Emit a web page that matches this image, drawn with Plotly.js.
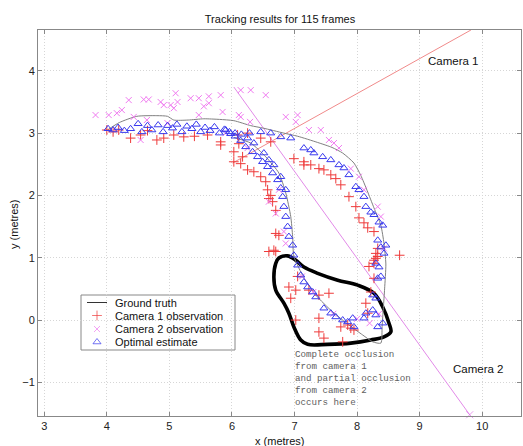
<!DOCTYPE html>
<html>
<head>
<meta charset="utf-8">
<script src="https://cdn.plot.ly/plotly-3.0.1.min.js"></script>
<style>html,body{margin:0;padding:0;background:#fff}#chart{width:523px;height:446px}</style>
</head>
<body>
<div id="chart"></div>
<script>
// ---- Data ----
const gtX = [4.01,4.20,4.48,4.80,4.97,5.07,5.30,5.55,5.80,6.03,6.30,6.50,6.83,7.05,7.37,7.60,7.77,7.95,8.06,8.16,8.27,8.38,8.43,8.46,8.44,8.42,8.40,8.38,8.25,8.09,7.87,7.61,7.34,7.15,6.99,6.97,6.94,6.86,6.75,6.54,6.30,6.03];
const gtY = [3.05,3.17,3.27,3.28,3.27,3.21,3.21,3.23,3.22,3.20,3.12,3.08,3.00,2.95,2.85,2.77,2.68,2.52,2.32,2.08,1.80,1.52,1.23,0.90,0.50,0.20,-0.10,-0.37,-0.35,-0.24,-0.08,0.13,0.40,0.68,1.02,1.34,1.66,2.04,2.36,2.62,2.84,2.93];

const cam1X = [4.00,4.19,4.38,4.54,4.80,4.91,5.07,5.23,5.61,5.82,5.82,6.09,6.25,6.46,6.62,4.10,5.40,4.65,
  6.11,6.03,6.14,6.25,6.35,6.46,6.54,6.57,6.59,6.65,6.70,6.70,6.75,6.67,6.70,6.03,6.17,6.62,
  6.99,7.15,7.15,7.26,7.39,7.47,7.58,7.66,7.74,7.87,7.98,8.03,8.11,8.17,8.27,8.30,8.33,8.27,8.68,8.19,
  6.59,7.05,6.91,7.02,7.23,7.39,7.55,6.94,7.39,7.02,7.74,7.85,7.90,7.95,7.47,7.39,7.77,8.14,8.17,8.22,8.27,8.27,8.33,8.30];
const cam1Y = [3.05,3.05,2.92,2.97,2.89,2.92,2.97,2.94,2.97,2.86,2.81,2.97,3.00,2.92,2.86,3.02,2.95,3.04,
  2.83,2.54,2.51,2.41,2.38,2.30,2.22,2.09,1.95,1.90,1.76,1.39,1.36,1.12,1.10,2.70,2.62,2.00,
  2.59,2.54,2.49,2.49,2.43,2.41,2.33,2.27,2.17,1.98,1.82,1.64,1.56,1.48,1.42,1.07,1.02,0.96,1.04,0.86,
  1.10,0.70,0.53,0.48,0.48,0.40,0.43,0.35,0.03,0.00,-0.11,-0.08,-0.13,-0.16,-0.29,-0.19,-0.35,0.27,0.11,0.45,0.67,0.91,1.15,0.99];

const cam2X = [3.82,4.03,4.16,4.24,4.35,4.43,4.59,4.67,4.64,4.86,4.91,4.97,5.02,5.07,5.10,5.13,5.34,5.47,5.47,5.55,5.63,5.63,5.85,5.82,
  6.14,6.30,6.54,6.14,6.29,6.86,7.05,7.02,7.23,7.42,7.55,7.63,7.71,7.90,8.03,8.11,8.33,8.38,8.43,
  6.59,6.70,6.83,6.86,6.75,6.25,6.11,4.54,5.90,7.12,7.30,7.62,8.00,8.35,8.20];
const cam2Y = [3.29,3.29,3.32,3.37,3.53,3.26,3.54,3.54,3.21,3.50,3.45,3.16,3.45,3.40,3.64,3.50,3.56,3.56,3.29,3.43,3.59,3.48,3.34,3.61,
  3.69,3.69,3.61,3.26,3.18,3.26,3.29,3.18,3.05,3.05,2.89,2.84,2.76,2.43,2.30,2.09,1.82,1.66,1.15,
  1.90,1.71,1.42,1.23,2.09,2.76,3.29,2.89,3.00,0.70,0.45,0.10,0.02,0.10,-0.05];

const estX = [4.02,4.10,4.18,4.28,4.38,4.50,4.56,4.65,4.72,4.82,4.90,4.97,5.05,5.12,5.20,5.28,5.36,5.43,5.50,5.57,5.65,5.72,5.80,5.88,5.96,
  6.05,6.15,6.28,6.46,6.62,6.78,6.94,
  7.15,7.26,7.31,7.45,7.58,7.71,7.79,7.87,7.98,8.03,8.11,8.14,8.22,8.27,8.35,8.41,8.33,8.38,8.43,8.30,8.35,8.38,8.33,8.30,8.25,8.46,
  8.41,8.33,8.30,8.25,8.14,8.11,7.95,7.93,7.85,7.77,7.66,7.58,7.47,7.34,7.29,7.21,7.15,7.10,7.05,6.99,
  6.97,6.91,6.89,6.86,6.83,6.81,6.78,6.73,6.65,6.57,6.49,6.41,6.33,6.22,6.14,6.05,5.98,5.90,
  6.25,6.35,6.51,6.59,6.67,6.78,6.86];
const estY = [3.07,3.05,3.09,3.04,3.07,3.15,3.02,3.12,3.05,3.13,3.02,3.12,3.08,3.14,3.02,3.11,3.07,3.14,3.02,3.09,3.04,3.10,3.00,3.06,3.02,
  3.00,2.98,3.00,3.02,3.00,2.94,2.92,
  2.76,2.73,2.68,2.62,2.57,2.49,2.44,2.33,2.14,2.09,1.98,1.82,1.73,1.69,1.57,1.52,1.28,1.17,1.07,0.91,0.85,0.70,0.67,0.35,0.40,1.20,
  -0.05,-0.11,0.08,0.16,0.11,0.03,-0.11,0.03,-0.03,0.00,0.05,0.11,0.19,0.37,0.45,0.53,0.61,0.72,0.88,1.04,
  1.20,1.34,1.50,1.66,1.82,1.98,2.12,2.25,2.36,2.46,2.54,2.62,2.70,2.78,2.88,2.95,2.99,3.05,
  2.92,2.84,2.68,2.57,2.49,2.30,2.09];

const camLine1X = [6.01,9.82];
const camLine1Y = [2.52,4.655];
const camLine2X = [6.03,9.80];
const camLine2Y = [3.74,-1.52];

const occX = [6.75,6.89,7.02,7.15,7.37,7.69,8.01,8.27,8.41,8.51,8.54,8.43,8.22,7.90,7.53,7.21,7.10,6.99,6.91,6.83,6.70,6.67,6.70,6.75];
const occY = [0.995,1.03,0.96,0.85,0.75,0.64,0.56,0.43,0.21,-0.05,-0.19,-0.27,-0.32,-0.37,-0.39,-0.39,-0.32,-0.11,0.11,0.27,0.48,0.69,0.91,0.995];

const legendLabels = ["Ground truth","Camera 1 observation","Camera 2 observation","Optimal estimate"];
const titleText = "Tracking results for 115 frames";
const xTitle = "x (metres)";
const yTitle = "y (metres)";
const occlusionNote = "Complete occlusion<br>from camera 1<br>and partial occlusion<br>from camera 2<br>occurs here";

// ---- Layout helpers (pixel -> paper) ----
const L = 38, R = 521, T = 30, B = 416;
const W = 523, H = 446;
const px2x = p => (p - L) / (R - L);
const py2y = p => (B - p) / (B - T);

const FONT = "Liberation Sans, Arial, Helvetica, sans-serif";
const red = "#ee3a3a", mag = "#f07af0", blue = "#3a3aee", gray = "#808080";

const traces = [
  {x: camLine1X, y: camLine1Y, mode: "lines", line: {color: "#f08a8a", width: 1}, hoverinfo: "skip"},
  {x: camLine2X, y: camLine2Y, mode: "lines+markers", line: {color: "#e28ae8", width: 1}, cliponaxis: false,
   marker: {symbol: "x-thin-open", size: [0, 7], color: "#e070e8", line: {color: "#e070e8", width: 1}}, hoverinfo: "skip"},
  {x: occX, y: occY, mode: "lines", line: {color: "#000", width: 3.6, shape: "spline", smoothing: 1}, hoverinfo: "skip"},
  {x: gtX, y: gtY, mode: "lines", line: {color: gray, width: 1, shape: "spline", smoothing: 0.6}, name: legendLabels[0]},
  {x: cam1X, y: cam1Y, mode: "markers", marker: {symbol: "cross-thin-open", size: 7, color: red, line: {color: red, width: 1}}, name: legendLabels[1]},
  {x: cam2X, y: cam2Y, mode: "markers", marker: {symbol: "x-thin-open", size: 6, color: mag, line: {color: mag, width: 1}}, name: legendLabels[2]},
  {x: estX, y: estY, mode: "markers", marker: {symbol: "triangle-up-open", size: 7, color: blue, line: {color: blue, width: 1}}, name: legendLabels[3]},
  // legend sample markers (overlay axes in paper units)
  {x: [px2x(97), px2x(97), px2x(97)], y: [py2y(315.5), py2y(329), py2y(342)], xaxis: "x2", yaxis: "y2",
   mode: "markers", hoverinfo: "skip", cliponaxis: false,
   marker: {symbol: ["cross-thin-open","x-thin-open","triangle-up-open"], size: [7,6,7],
            color: [red, mag, blue], line: {color: [red, mag, blue], width: 1}}}
];

const rowY = [302.5, 315.5, 329, 342];
const annotations = legendLabels.map((t, i) => ({
  xref: "paper", yref: "paper", x: px2x(113), y: py2y(rowY[i]), xanchor: "left", yanchor: "middle",
  text: t, showarrow: false, font: {family: FONT, size: 11, color: "#111"}
}));
annotations.push(
  {xref: "x", yref: "y", x: 6.98, y: -0.43, xanchor: "left", yanchor: "top", align: "left", showarrow: false,
   text: occlusionNote, font: {family: "Courier New, Liberation Mono, monospace", size: 9.2, color: "#606060"}},
  {xref: "paper", yref: "paper", x: px2x(453), y: py2y(61), xanchor: "center", yanchor: "middle", showarrow: false,
   text: "Camera 1", font: {family: FONT, size: 11.5, color: "#111"}},
  {xref: "paper", yref: "paper", x: px2x(478), y: py2y(369), xanchor: "center", yanchor: "middle", showarrow: false,
   text: "Camera 2", font: {family: FONT, size: 11.5, color: "#111"}},
  {xref: "paper", yref: "paper", x: px2x(280), y: py2y(441), xanchor: "center", yanchor: "middle", showarrow: false,
   text: xTitle, font: {family: FONT, size: 11, color: "#111"}},
  {xref: "paper", yref: "paper", x: px2x(14), y: py2y(224), xanchor: "center", yanchor: "middle", showarrow: false,
   textangle: -90, text: yTitle, font: {family: FONT, size: 11, color: "#111"}}
);

const shapes = [
  {type: "rect", xref: "paper", yref: "paper", x0: px2x(81), x1: px2x(235), y0: py2y(350), y1: py2y(295),
   line: {color: "#888", width: 1}, fillcolor: "#fff", layer: "between"},
  {type: "line", xref: "paper", yref: "paper", x0: px2x(87), x1: px2x(107), y0: py2y(302.5), y1: py2y(302.5),
   line: {color: "#333", width: 1}, layer: "between"}
];

const axisCommon = {
  showline: true, linecolor: "#888", linewidth: 1, mirror: "allticks",
  ticks: "inside", ticklen: 4, tickcolor: "#888", tickwidth: 1,
  showgrid: true, gridcolor: "#d6d6d6", griddash: "1px,2px", gridwidth: 1,
  zeroline: false, tickfont: {family: FONT, size: 11, color: "#222"}, fixedrange: true
};

const layout = {
  width: W, height: H,
  margin: {l: L, r: W - R, t: T, b: H - B, pad: 0},
  paper_bgcolor: "#fff", plot_bgcolor: "#fff",
  showlegend: false,
  title: {text: titleText, font: {family: FONT, size: 11, color: "#111"}, x: px2x(280), xref: "paper",
          y: 1 - 19 / H, yref: "container", xanchor: "center", yanchor: "middle"},
  xaxis: Object.assign({}, axisCommon, {range: [2.9, 10.62], dtick: 1, tick0: 3}),
  yaxis: Object.assign({}, axisCommon, {range: [-1.54, 4.655], dtick: 1, tick0: 0}),
  xaxis2: {overlaying: "x", range: [0, 1], visible: false, fixedrange: true},
  yaxis2: {overlaying: "y", range: [0, 1], visible: false, fixedrange: true},
  annotations: annotations,
  shapes: shapes
};

Plotly.newPlot("chart", traces, layout, {displayModeBar: false, staticPlot: true});
</script>
</body>
</html>
